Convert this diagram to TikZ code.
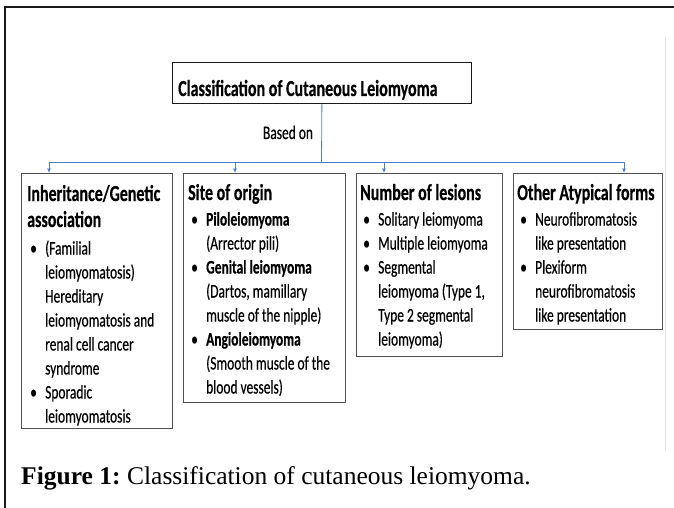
\documentclass[tikz,border=0pt]{standalone}
\usepackage{fontspec}
\setmainfont{Liberation Serif}
\newfontfamily\cf[FakeStretch=0.7,FakeBold=0.4]{Carlito}
\usetikzlibrary{arrows.meta}
\definecolor{conn}{HTML}{4F7FCB}
\definecolor{framec}{HTML}{1A1A1A}
\definecolor{boxline}{HTML}{505050}
\definecolor{faint}{HTML}{DCE3EE}
\newcommand\bitem[1]{\hspace*{3pt}\makebox[15pt][l]{\textbullet}#1}
\newcommand\bcont[1]{\hspace*{18pt}#1}
\newcommand\hdfont{\cf\bfseries\fontsize{22.8}{26}\selectfont}
\newcommand\bdfont{\cf\fontsize{19.2}{24}\selectfont}
\tikzset{
  cbox/.style={draw=boxline, line width=0.8pt, anchor=north west, inner sep=0pt, fill=none},
  ctext/.style={anchor=base west, inner sep=0pt},
  conline/.style={draw=conn, line width=0.8pt},
  conarrow/.style={draw=conn, line width=0.8pt, -{Latex[length=4.5pt,width=4pt]}},
}
\begin{document}
\begin{tikzpicture}[x=1pt,y=-1pt]
\useasboundingbox (0,0) rectangle (674,508);
\fill[white] (0,0) rectangle (674,508);
% outer frame
\draw[framec, line width=2pt] (674,7) -- (5,7) -- (5,508);
\draw[faint, line width=1pt] (665,37) -- (665,450);

% title
\node[cbox, draw=framec, minimum width=299pt, minimum height=41pt] (title) at (172,62) {};
\node[ctext] (titletext) at (178,96) {\cf\bfseries\fontsize{22.9}{26}\selectfont Classification of Cutaneous Leiomyoma};
\node[anchor=base, inner sep=0pt] (based) at (288,139) {\bdfont Based on};

% boxes
\node[cbox, minimum width=151pt, minimum height=255pt] (b1) at (21,173) {};
\node[cbox, minimum width=162pt, minimum height=229pt] (b2) at (183,173) {};
\node[cbox, minimum width=146pt, minimum height=183pt] (b3) at (356,173) {};
\node[cbox, minimum width=149pt, minimum height=156pt] (b4) at (513,173) {};

% connectors
\coordinate (hub) at (321.5,162);
\coordinate (a1) at (49,162);
\coordinate (a2) at (235,162);
\coordinate (a3) at (384,162);
\coordinate (a4) at (624,162);
\draw[conline] (title.south) -- (hub);
\draw[conline] (a1) -- (a4);
\draw[conarrow] (a1) -- (a1 |- b1.north);
\draw[conarrow] (a2) -- (a2 |- b2.north);
\draw[conarrow] (a3) -- (a3 |- b3.north);
\draw[conarrow] (a4) -- (a4 |- b4.north);

% box texts
\node[ctext] (t1) at (27,201) {\begin{minipage}[t]{200pt}
{\hdfont Inheritance/Genetic\\association\par}
\vspace{3.5pt}
{\bdfont
\bitem{(Familial}\\
\bcont{leiomyomatosis)}\\
\bcont{Hereditary}\\
\bcont{leiomyomatosis and}\\
\bcont{renal cell cancer}\\
\bcont{syndrome}\\
\bitem{Sporadic}\\
\bcont{leiomyomatosis}\par}
\end{minipage}};

\node[ctext] (t2) at (188,200) {\begin{minipage}[t]{200pt}
{\hdfont Site of origin\par}
\vspace{1.5pt}
{\bdfont
\bitem{\textbf{Piloleiomyoma}}\\
\bcont{(Arrector pili)}\\
\bitem{\textbf{Genital leiomyoma}}\\
\bcont{(Dartos, mamillary}\\
\bcont{muscle of the nipple)}\\
\bitem{\textbf{Angioleiomyoma}}\\
\bcont{(Smooth muscle of the}\\
\bcont{blood vessels)}\par}
\end{minipage}};

\node[ctext] (t3) at (360,200) {\begin{minipage}[t]{200pt}
{\hdfont Number of lesions\par}
\vspace{1.5pt}
{\bdfont
\bitem{Solitary leiomyoma}\\
\bitem{Multiple leiomyoma}\\
\bitem{Segmental}\\
\bcont{leiomyoma (Type 1,}\\
\bcont{Type 2 segmental}\\
\bcont{leiomyoma)}\par}
\end{minipage}};

\node[ctext] (t4) at (517,200) {\begin{minipage}[t]{200pt}
{\hdfont Other Atypical forms\par}
\vspace{1.5pt}
{\bdfont
\bitem{Neurofibromatosis}\\
\bcont{like presentation}\\
\bitem{Plexiform}\\
\bcont{neurofibromatosis}\\
\bcont{like presentation}\par}
\end{minipage}};

% caption
\node[ctext] (caption) at (21,484) {\fontsize{25.5}{30}\selectfont\textbf{Figure 1:}\hspace{-2pt} Classification of cutaneous leiomyoma.};
\end{tikzpicture}
\end{document}
